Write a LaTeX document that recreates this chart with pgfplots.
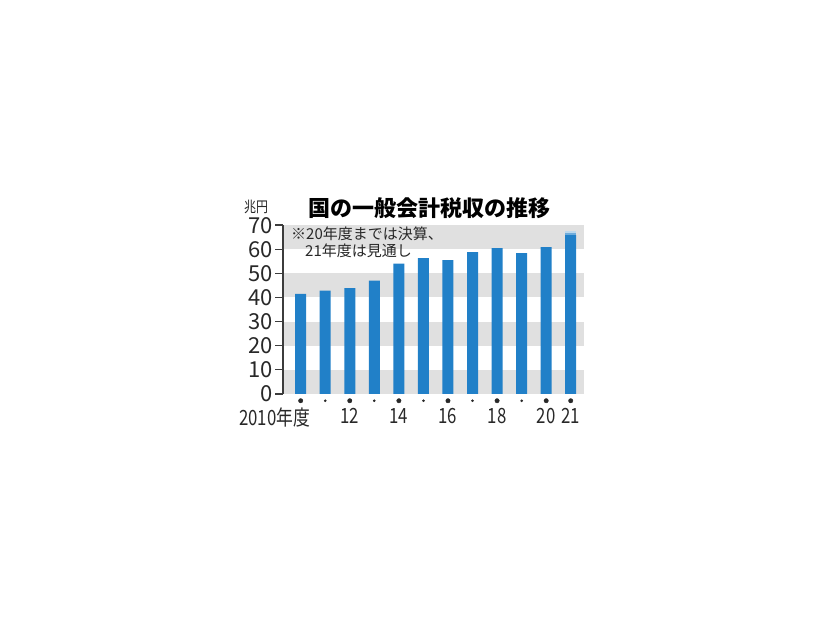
\documentclass[border=0pt]{standalone}
\usepackage{fontspec}
\setmainfont{Noto Sans CJK JP}
\newfontfamily\jpcond[FakeStretch=0.8]{Noto Sans CJK JP}
\usepackage{pgfplots}
\pgfplotsset{compat=1.18}
\definecolor{barblue}{RGB}{33,128,200}
\definecolor{bandgray}{RGB}{224,224,224}
\definecolor{axisgray}{RGB}{60,60,60}
\definecolor{txt}{RGB}{40,40,40}

\begin{document}
\begin{tikzpicture}
\useasboundingbox (0,0) rectangle (826bp,620bp);
\begin{axis}[
    at={(283bp,226bp)}, anchor=south west,
    scale only axis, width=300.5bp, height=169bp,
    xmin=2009.28, xmax=2021.52, ymin=0, ymax=70,
    axis lines*=left, axis on top,
    x axis line style={draw=none},
    y axis line style={draw=axisgray, line width=1.1bp},
    xtick={2010,...,2021},
    xticklabels={\makebox[0pt][r]{2010年度\hspace{-9.3bp}},,12,,14,,16,,18,,20,21},
    x tick style={draw=none},
    xticklabel style={font=\fontsize{21bp}{22bp}\jpcond, text=txt, inner sep=0pt, anchor=north, yshift=-6bp},
    ytick={0,10,...,70},
    tick align=outside, major tick length=8bp,
    y tick style={draw=axisgray, line width=1.1bp},
    yticklabel style={font=\fontsize{22bp}{23bp}\selectfont, text=txt, inner xsep=2bp, inner ysep=0pt,
        text height=16bp, text depth=0pt},
    /pgf/number format/assume math mode=true,
    clip=false,
]
\fill[bandgray] (axis cs:2009.28,0) rectangle (axis cs:2021.52,10);
\fill[bandgray] (axis cs:2009.28,20) rectangle (axis cs:2021.52,30);
\fill[bandgray] (axis cs:2009.28,40) rectangle (axis cs:2021.52,50);
\fill[bandgray] (axis cs:2009.28,60) rectangle (axis cs:2021.52,70);
% 21年度（見通し）の上端のぼかし
\addplot[ybar, bar width=11bp, bar shift=0pt, draw=none, fill=barblue!30] coordinates {(2021,67.4)};
\addplot[ybar, bar width=11bp, bar shift=0pt, draw=none, fill=barblue!65] coordinates {(2021,66.6)};
\addplot[ybar, bar width=11bp, bar shift=0pt, draw=none, fill=barblue] coordinates {
    (2010,41.5) (2011,42.8) (2012,43.9) (2013,47.0) (2014,54.0) (2015,56.3)
    (2016,55.5) (2017,58.8) (2018,60.4) (2019,58.4) (2020,60.8) (2021,65.8)
};
\addplot[only marks, mark=*, mark size=2.2bp, color=txt] coordinates {
    (2010,-2.8) (2012,-2.8) (2014,-2.8) (2016,-2.8) (2018,-2.8) (2020,-2.8) (2021,-2.8)
};
\addplot[only marks, mark=*, mark size=1.1bp, color=txt] coordinates {
    (2011,-2.8) (2013,-2.8) (2015,-2.8) (2017,-2.8) (2019,-2.8)
};
\end{axis}
\node[font=\fontsize{22bp}{24bp}\bfseries, inner sep=0pt] at (429bp,411.5bp) {国の一般会計税収の推移};
\node[font=\fontsize{15bp}{16bp}\jpcond, text=txt, inner sep=0pt, text height=12.5bp, text depth=1.2bp] at (256bp,413.5bp) {兆円};
\node[font=\fontsize{15bp}{16bp}\selectfont, text=txt, inner sep=0pt, anchor=west] at (291bp,386.5bp) {※20年度までは決算、};
\node[font=\fontsize{15bp}{16bp}\selectfont, text=txt, inner sep=0pt, anchor=west] at (305bp,369.5bp) {21年度は見通し};
\end{tikzpicture}
\end{document}
